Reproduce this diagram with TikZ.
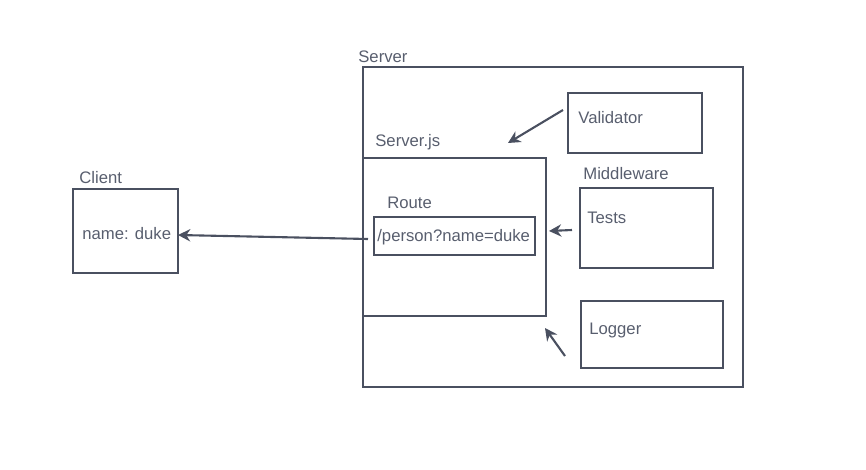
\documentclass[tikz,border=0pt]{standalone}
\usepackage{fontspec}
\setmainfont{Liberation Sans}
\usetikzlibrary{arrows.meta}
\definecolor{slate}{RGB}{74,80,96}
\definecolor{slatetext}{RGB}{88,94,110}
\begin{document}
\begin{tikzpicture}[
        x=0.02cm, y=-0.02cm,
        box/.style={draw=slate, line width=1.4pt, rectangle, inner sep=0pt, outer sep=0pt, anchor=north west},
        txt/.style={text=slatetext, anchor=west, inner sep=0pt, font=\fontsize{9.5}{11}\selectfont},
        arr/.style={draw=slate, line width=1.2pt, -{Stealth[length=7pt,width=7pt]}}
        ]
        \useasboundingbox (0,0) rectangle (866,470);

        % Server and its parts
        \node[box, minimum width=7.6cm, minimum height=6.4cm] (server) at (363,67) {};
        \node[box, minimum width=3.66cm, minimum height=3.16cm] (serverjs) at (363,158) {};
        \node[box, minimum width=3.22cm, minimum height=0.76cm] (route) at (374,217) {};
        \node[box, minimum width=2.68cm, minimum height=1.2cm] (validator) at (568,93) {};
        \node[box, minimum width=2.66cm, minimum height=1.6cm] (tests) at (580,188) {};
        \node[box, minimum width=2.84cm, minimum height=1.34cm] (logger) at (581,301) {};
        % Client
        \node[box, minimum width=2.1cm, minimum height=1.68cm] (client) at (73,189) {};

        % Texts
        \node[txt] (serverlbl) at (358,57) {Server};
        \node[txt] (serverjslbl) at (375,142) {Server.js};
        \node[txt] (routelbl) at (387,203) {Route};
        \node[txt] (routetxt) at (377,237) {/person?name=duke};
        \node[txt] (validatortxt) at (578,118) {Validator};
        \node[txt] (middlewarelbl) at (583,174) {Middleware};
        \node[txt] (teststxt) at (587,218) {Tests};
        \node[txt] (loggertxt) at (589,330) {Logger};
        \node[txt] (clientlbl) at (79,178) {Client};
        \node[txt] (clienttxt) at (82,234) {name: duke};

        % Arrows
        \coordinate (vfrom) at (563,110);
        \coordinate (vto) at (508,143);
        \coordinate (tfrom) at (572,230);
        \coordinate (tto) at (549,231);
        \coordinate (lfrom) at (565,356);
        \coordinate (lto) at (545,328);
        \coordinate (rfrom) at (368,239);
        \draw[arr] (vfrom) -- (vto);
        \draw[arr] (tfrom) -- (tto);
        \draw[arr] (lfrom) -- (lto);
        \draw[arr] (rfrom) -- (client.east |- 0,235);
    \end{tikzpicture}
\end{document}
